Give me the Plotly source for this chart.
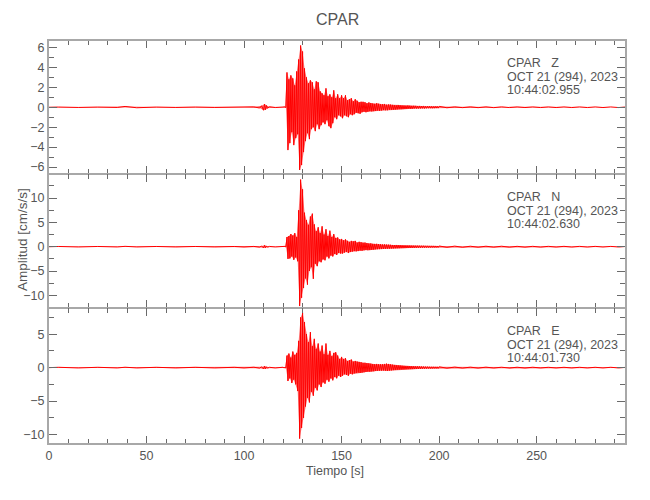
import numpy as np
import plotly.graph_objects as go

# ---------------- data ----------------
# Time grid pieces (s); values are alternating max/min peaks read per bin
PRE_T = [0, 5, 15, 25, 35, 39, 45, 55, 65, 75, 85, 95, 100, 105, 108, 109,
         110, 110.5, 111, 111.5, 112, 113, 116, 119.5]
SEG1_T = np.arange(120.0, 150.01, 0.5)      # 61 samples
SEG2_T = np.arange(150.5, 200.01, 0.5)      # 100 samples
SEG3_T = np.arange(204.0, 296.01, 4.0)      # 24 samples

# Component Z (cm/s/s)
Z_PRE = [0, 0.02, -0.02, 0.02, -0.02, 0.08, -0.05, 0.02, -0.02, 0.02, -0.02, 0.02,
         -0.03, 0.04, -0.08, 0.15, -0.3, 0.32, -0.25, 0.18, -0.1, 0.05, -0.03, 0.02]
Z_1 = [0.03, -0.03, 0.04, -0.04,
       3.5, -4.3, 2.8, -3.6, 3.2, -2.5, 2.9, -3.8, 2.2, -3.1, 3.6, -2.7,
       4.8, -6.3, 6.2, -5.8, 5.6, -4.5, 3.9, -3.4, 3.0, -2.6,
       2.4, -3.2, 2.7, -2.2, 2.5, -2.0, 1.8, -2.4, 2.6, -1.7,
       2.5, -2.2, 1.6, -1.8, 1.4, -1.5, 1.2, -1.7, 1.9, -1.3,
       1.1, -1.9, 1.3, -2.1, 1.0, -1.6, 1.7, -1.0, 0.9, -1.2,
       1.3, -0.8, 0.9, -0.9, 1.2]
Z_2 = [-1.1, 0.9, -0.8, 1.2, -0.9, 0.7, -1.0, 0.8, -0.7, 0.9,
       -0.8, 0.6, -0.7, 0.8, -0.55, 0.65, -0.6, 0.5, -0.65, 0.55,
       -0.5, 0.55, -0.45, 0.5, -0.5, 0.4, -0.45, 0.48, -0.4, 0.42,
       -0.42, 0.38, -0.4, 0.35, -0.38, 0.4, -0.33, 0.35, -0.36, 0.3,
       -0.32, 0.3, -0.28, 0.33, -0.3, 0.26, -0.3, 0.28, -0.25, 0.27,
       -0.26, 0.24, -0.25, 0.22, -0.24, 0.2, -0.22, 0.23, -0.2, 0.2,
       -0.2, 0.18, -0.19, 0.17, -0.18, 0.16, -0.17, 0.18, -0.15, 0.16,
       -0.16, 0.14, -0.15, 0.15, -0.13, 0.14, -0.14, 0.12, -0.13, 0.13,
       -0.12, 0.12, -0.11, 0.13, -0.12, 0.1, -0.11, 0.11, -0.1, 0.11,
       -0.1, 0.1, -0.11, 0.09, -0.1, 0.1, -0.09, 0.1, -0.09, 0.09]
Z_3 = [-0.05, 0.04, -0.04, 0.04, -0.04, 0.04, -0.04, 0.04, -0.03, 0.03, -0.03, 0.03,
       -0.03, 0.03, -0.03, 0.03, -0.03, 0.03, -0.03, 0.03, -0.03, 0.03, -0.03, 0.03]

# Component N
N_PRE = [0, 0.05, -0.05, 0.05, -0.05, 0.08, -0.05, 0.05, -0.05, 0.05, -0.05, 0.05,
         -0.06, 0.06, -0.1, 0.15, -0.25, 0.28, -0.22, 0.15, -0.1, 0.06, -0.05, 0.05]
N_1 = [0.06, -0.06, 0.08, -0.08,
       2.0, -2.5, 2.2, -2.4, 2.6, -2.0, 2.3, -2.7, 2.8, -2.2, 2.0, -3.0,
       7.5, -12.2, 13.8, -10.5, 11.8, -8.5, 7.0, -6.5, 5.5, -7.8,
       4.5, -5.0, 6.2, -4.2, 6.8, -6.6, 4.6, -3.5, 3.2, -4.0,
       4.0, -3.0, 2.8, -3.2, 4.2, -2.6, 2.5, -2.8, 3.6, -2.0,
       2.2, -2.4, 3.3, -1.8, 2.0, -2.0, 2.6, -1.5, 1.8, -1.7,
       1.9, -1.3, 1.5, -1.4, 1.6]
N_2 = [-1.4, 1.3, -1.2, 1.5, -1.1, 1.2, -1.3, 1.0, -1.1, 1.2,
       -1.0, 1.1, -0.9, 1.2, -0.95, 0.85, -0.9, 1.0, -0.8, 0.9,
       -0.85, 0.8, -0.75, 0.85, -0.7, 0.75, -0.72, 0.68, -0.7, 0.7,
       -0.65, 0.6, -0.62, 0.58, -0.55, 0.6, -0.52, 0.55, -0.5, 0.5,
       -0.48, 0.46, -0.45, 0.48, -0.42, 0.44, -0.4, 0.42, -0.4, 0.4,
       -0.38, 0.36, -0.37, 0.35, -0.34, 0.36, -0.33, 0.34, -0.32, 0.33,
       -0.3, 0.3, -0.29, 0.28, -0.28, 0.27, -0.27, 0.26, -0.26, 0.26,
       -0.25, 0.24, -0.24, 0.23, -0.23, 0.22, -0.22, 0.22, -0.21, 0.21,
       -0.2, 0.2, -0.19, 0.2, -0.19, 0.18, -0.18, 0.18, -0.18, 0.17,
       -0.17, 0.17, -0.16, 0.17, -0.16, 0.16, -0.16, 0.15, -0.15, 0.15]
N_3 = [-0.12, 0.12, -0.11, 0.1, -0.1, 0.1, -0.09, 0.1, -0.09, 0.08, -0.09, 0.08,
       -0.08, 0.08, -0.07, 0.08, -0.07, 0.07, -0.07, 0.07, -0.06, 0.06, -0.06, 0.06]

# Component E
E_PRE = [0, 0.05, -0.05, 0.05, -0.05, 0.06, -0.05, 0.05, -0.05, 0.05, -0.05, 0.05,
         -0.05, 0.06, -0.08, 0.12, -0.2, 0.22, -0.18, 0.12, -0.08, 0.05, -0.05, 0.05]
E_1 = [0.06, -0.06, 0.06, -0.08,
       1.8, -2.0, 2.1, -1.6, 1.5, -2.3, 2.4, -1.8, 1.9, -2.5, 2.2, -3.5,
       4.0, -10.6, 7.5, -9.0, 8.2, -7.5, 6.8, -5.8, 5.0, -4.5,
       3.8, -5.2, 5.3, -3.6, 3.2, -4.2, 4.3, -3.0, 2.8, -3.4,
       3.6, -2.5, 2.4, -2.9, 3.3, -2.2, 2.0, -2.4, 3.6, -1.8,
       1.9, -2.1, 2.5, -1.6, 1.7, -1.9, 2.2, -1.4, 2.3, -1.6,
       1.8, -1.2, 1.3, -1.4, 1.6]
E_2 = [-1.2, 1.3, -1.0, 1.4, -1.1, 1.0, -1.2, 1.1, -0.9, 1.2,
       -1.0, 0.9, -0.85, 1.0, -0.8, 0.9, -0.75, 0.85, -0.8, 0.8,
       -0.75, 0.7, -0.7, 0.72, -0.65, 0.68, -0.6, 0.65, -0.62, 0.6,
       -0.58, 0.55, -0.55, 0.52, -0.5, 0.55, -0.48, 0.5, -0.46, 0.5,
       -0.45, 0.5, -0.42, 0.55, -0.45, 0.6, -0.5, 0.55, -0.45, 0.5,
       -0.42, 0.45, -0.38, 0.4, -0.36, 0.38, -0.34, 0.35, -0.32, 0.33,
       -0.3, 0.3, -0.28, 0.28, -0.27, 0.26, -0.25, 0.25, -0.24, 0.24,
       -0.23, 0.22, -0.22, 0.21, -0.21, 0.2, -0.2, 0.2, -0.19, 0.19,
       -0.18, 0.17, -0.17, 0.16, -0.16, 0.15, -0.15, 0.15, -0.14, 0.14,
       -0.14, 0.13, -0.13, 0.13, -0.12, 0.12, -0.12, 0.12, -0.12, 0.12]
E_3 = [-0.08, 0.08, -0.07, 0.07, -0.07, 0.07, -0.06, 0.06, -0.06, 0.06, -0.06, 0.06,
       -0.05, 0.05, -0.05, 0.05, -0.05, 0.05, -0.05, 0.05, -0.05, 0.05, -0.05, 0.05]

COMPONENTS = ["Z", "N", "E"]
START_TIMES = ["10:44:02.955", "10:44:02.630", "10:44:01.730"]
DATE_LABEL = "OCT 21 (294), 2023"
STATION = "CPAR"
Y_RANGES = [[-6.7, 6.75], [-12.6, 14.95], [-11.4, 8.9]]
Y_DTICK = [2, 5, 5]
Y_MINOR = [1, 2.5, 2.5]
X_RANGE = [0, 295.3]

# ---------------- build ----------------
T = np.concatenate([PRE_T, SEG1_T, SEG2_T, SEG3_T])
series = [
    np.array(Z_PRE + Z_1 + Z_2 + Z_3),
    np.array(N_PRE + N_1 + N_2 + N_3),
    np.array(E_PRE + E_1 + E_2 + E_3),
]

FONT = "Liberation Sans, Arial, sans-serif"
GRAY = "#555555"
FRAME = "#a8a8a8"
TICKC = "#6a6a6a"

W, H = 650, 500
L, R, TOP, BOT = 49, 25, 40, 56
plot_h = H - TOP - BOT
panels_px = [(40, 174), (174, 308), (308, 444)]

def py2paper(py):
    return (H - BOT - py) / plot_h

def px2paper(px):
    return (px - L) / (W - L - R)

fig = go.Figure()
layout = dict(
    width=W, height=H,
    margin=dict(l=L, r=R, t=TOP, b=BOT),
    paper_bgcolor="white", plot_bgcolor="white",
    showlegend=False,
    font=dict(family=FONT, size=12, color=GRAY),
)

annotations = []
for i, (vals, comp, t0) in enumerate(zip(series, COMPONENTS, START_TIMES)):
    n = i + 1
    xa = "x" if n == 1 else f"x{n}"
    ya = "y" if n == 1 else f"y{n}"
    # filled band between the positive (upper) and negative (lower) peaks
    up = vals >= 0
    band_x = np.concatenate([T[up], T[~up][::-1]])
    band_y = np.concatenate([vals[up], vals[~up][::-1]])
    fig.add_trace(go.Scatter(
        x=band_x, y=band_y, mode="lines", fill="toself",
        fillcolor="rgba(255,0,0,0.55)", line=dict(width=0),
        xaxis=xa, yaxis=ya, hoverinfo="skip",
    ))
    fig.add_trace(go.Scatter(
        x=T, y=vals, mode="lines",
        line=dict(color="rgb(255,0,0)", width=1),
        xaxis=xa, yaxis=ya, hoverinfo="skip",
    ))
    top_px, bot_px = panels_px[i]
    dom = [py2paper(bot_px), py2paper(top_px)]
    xkey = "xaxis" if n == 1 else f"xaxis{n}"
    ykey = "yaxis" if n == 1 else f"yaxis{n}"
    layout[xkey] = dict(
        domain=[0, 1], anchor=ya, range=X_RANGE,
        showgrid=False, zeroline=False,
        showline=True, linecolor=FRAME, linewidth=1, mirror="allticks",
        ticks="inside", ticklen=8, tickcolor=TICKC, tickwidth=1,
        tick0=0, dtick=50,
        minor=dict(ticks="inside", ticklen=5, tickcolor=TICKC, dtick=10, showgrid=False),
        showticklabels=(n == 3),
        tickfont=dict(family=FONT, size=12.5, color=GRAY),
    )
    if n != 1:
        layout[xkey]["matches"] = "x"
    layout[ykey] = dict(
        domain=dom, anchor=xa, range=Y_RANGES[i],
        showgrid=False, zeroline=False,
        showline=True, linecolor=FRAME, linewidth=2, mirror="allticks",
        ticks="inside", ticklen=8, tickcolor=TICKC, tickwidth=1,
        tick0=0, dtick=Y_DTICK[i],
        minor=dict(ticks="inside", ticklen=5, tickcolor=TICKC, dtick=Y_MINOR[i], showgrid=False),
        tickfont=dict(family=FONT, size=12.5, color=GRAY),
        ticklabelstandoff=0,
    )
    lines = [f"{STATION}\u00a0\u00a0\u00a0{comp}", DATE_LABEL, t0]
    for k, txt in enumerate(lines):
        annotations.append(dict(
            text=txt, xref="paper", yref="paper",
            x=px2paper(505), y=py2paper(top_px + 23 + 13.7 * k),
            xanchor="left", yanchor="middle", showarrow=False,
            font=dict(family=FONT, size=12.5, color=GRAY),
        ))

annotations.append(dict(
    text=STATION, xref="paper", yref="paper",
    x=px2paper(337), y=py2paper(20), xanchor="center", yanchor="middle",
    showarrow=False, font=dict(family=FONT, size=16, color=GRAY),
))
annotations.append(dict(
    text="Tiempo [s]", xref="paper", yref="paper",
    x=px2paper(335), y=py2paper(471), xanchor="center", yanchor="middle",
    showarrow=False, font=dict(family=FONT, size=12.5, color=GRAY),
))
annotations.append(dict(
    text="Amplitud [cm/s/s]", xref="paper", yref="paper",
    x=px2paper(22), y=py2paper(240), xanchor="center", yanchor="middle",
    textangle=-90, showarrow=False, font=dict(family=FONT, size=13.5, color=GRAY),
))
layout["annotations"] = annotations
layout["shapes"] = [
    dict(type="line", xref="paper", yref="paper", x0=0, x1=1, y0=1, y1=1,
         line=dict(color=FRAME, width=2), layer="above"),
    dict(type="line", xref="paper", yref="paper", x0=0, x1=1, y0=0, y1=0,
         line=dict(color=FRAME, width=2), layer="above"),
]

fig.update_layout(**layout)
fig.write_html("out.html", config={"displayModeBar": False},
               post_script="document.body.style.margin='0';")
